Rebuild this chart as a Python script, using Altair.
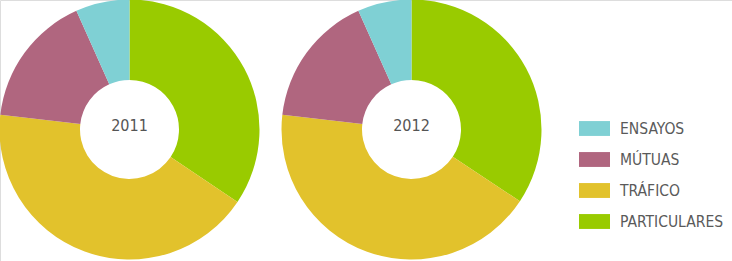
import altair as alt
import pandas as pd

years = ["2011", "2012"]
categories = ["PARTICULARES", "TRÁFICO", "MÚTUAS", "ENSAYOS"]
values_2011 = [34.4, 42.4, 16.5, 6.7]
values_2012 = [34.3, 42.5, 16.5, 6.7]
legend_order = ["ENSAYOS", "MÚTUAS", "TRÁFICO", "PARTICULARES"]
legend_colors = ["#7fd0d4", "#b0667f", "#e2c22c", "#99cb00"]

rows = []
for year, vals in zip(years, [values_2011, values_2012]):
    for i, (c, v) in enumerate(zip(categories, vals)):
        rows.append({"year": year, "cat": c, "value": v, "order": i})
df = pd.DataFrame(rows)

FONT = "DejaVu Sans Condensed, Liberation Sans Narrow, sans-serif"

xscale = alt.Scale(type="point", domain=years, range=[129.5, 411.5], padding=0)

arcs = alt.Chart(df).transform_window(
    end="sum(value)", sort=[alt.SortField("order")], groupby=["year"],
    frame=[None, 0]
).transform_calculate(
    start="datum.end - datum.value"
).mark_arc(radius=130, radius2=49.5).encode(
    x=alt.X("year:N", scale=xscale, axis=None),
    y=alt.value(129.5),
    theta=alt.Theta("start:Q", scale=alt.Scale(domain=[0, 100]), stack=False),
    theta2="end:Q",
    color=alt.Color(
        "cat:N",
        scale=alt.Scale(domain=legend_order, range=legend_colors),
        legend=alt.Legend(
            title=None, orient="none", legendX=579, legendY=113,
            symbolType="M-1,-0.48H1V0.48H-1Z", symbolSize=961,
            symbolStrokeWidth=0, symbolOpacity=1, labelOffset=10,
            labelFont=FONT, labelFontSize=15.5, labelColor="#5a5a5a",
            rowPadding=7, padding=0, symbolOffset=0,
        ),
    ),
)

labels = alt.Chart(pd.DataFrame({"year": years})).mark_text(
    font=FONT, fontSize=16, color="#555555", align="center", baseline="middle"
).encode(
    x=alt.X("year:N", scale=xscale, axis=None),
    y=alt.value(126),
    text="year:N",
)

chart = alt.layer(arcs, labels).properties(
    width=732, height=261, padding=0, autosize=alt.AutoSizeParams(type="none")
).configure_view(stroke=None).configure(background="white")

chart.save("out.html", embed_options={"renderer": "svg", "actions": False})
